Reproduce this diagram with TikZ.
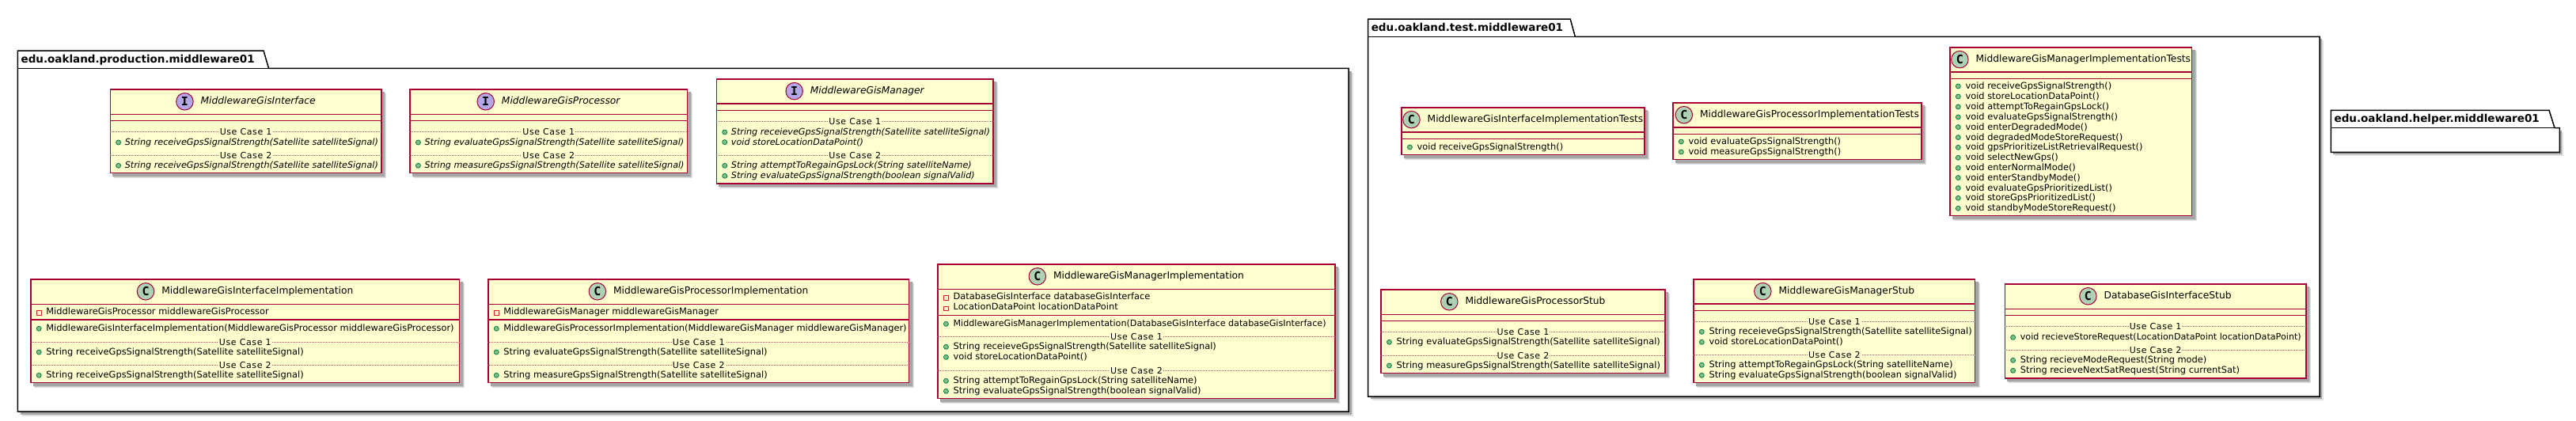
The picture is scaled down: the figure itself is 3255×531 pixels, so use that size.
\documentclass[tikz,border=0pt]{standalone}
\usepackage{fontspec}
\setmainfont{DejaVu Sans}
\newfontfamily\letterfont{DejaVu Sans Mono}
\newfontfamily\ucfamily[LetterSpace=5.5]{DejaVu Sans}
\definecolor{umlborder}{HTML}{A80036}
\definecolor{umlfill}{HTML}{FEFECE}
\definecolor{circI}{HTML}{B4A7E5}
\definecolor{circC}{HTML}{ADD1B2}
\definecolor{pubfill}{HTML}{84BE84}
\definecolor{publine}{HTML}{038048}
\definecolor{privline}{HTML}{C82930}
\newcount\nodeno
\newcommand\nn{\global\advance\nodeno by 1\relax}
\newcommand\memfont{\fontsize{11.4}{13}\selectfont}
\newcommand\memsfont{\fontsize{11.15}{13}\selectfont}
\newcommand\memifont{\fontsize{11.2}{13}\selectfont\itshape}
\newcommand\ucfont{\ucfamily\fontsize{11}{13}\selectfont}
\newcommand\titfont{\fontsize{12.27}{15}\selectfont}
\newcommand\pkgfont{\fontsize{13.5}{16}\selectfont\bfseries}
\tikzset{
  x=1pt,y=-1pt,
  classbody/.style={draw=umlborder,fill=umlfill,line width=1.5pt,inner sep=0pt,outer sep=0pt},
  rule/.style={draw=umlborder,line width=1.5pt},
  dots/.style={draw=umlborder!70,line width=.7pt,dash pattern=on 1pt off 1pt},
  sh1/.style={fill=black!12},
  sh2/.style={fill=black!22},
  sh3/.style={fill=black!35},
  memtext/.style={anchor=base west,inner sep=0pt,font=\memfont,text=black},
  memitext/.style={anchor=base west,inner sep=0pt,font=\memifont,text=black},
  uctext/.style={fill=umlfill,inner xsep=1pt,inner ysep=0pt,font=\ucfont,text=black},
  pubdot/.style={circle,draw=publine,fill=pubfill,line width=.8pt,minimum size=6pt,inner sep=0pt},
  privsq/.style={rectangle,draw=privline,line width=.9pt,minimum size=5.5pt,inner sep=0pt},
  badgeI/.style={circle,draw=umlborder,fill=circI,line width=1pt,minimum size=21.5pt,inner sep=0pt,font=\letterfont\fontsize{15}{15}\selectfont\bfseries},
  badgeC/.style={badgeI,fill=circC},
  nameI/.style={inner sep=0pt,font=\titfont\itshape},
  nameC/.style={inner sep=0pt,font=\titfont},
  pkgline/.style={draw=black,line width=1.5pt,fill=white,line join=miter},
  pkgtext/.style={anchor=base west,inner sep=0pt,font=\pkgfont},
}
% name x1 y1 x2 y2 ytitle yattr letter title
\newcommand\kbox[9]{%
  \fill[sh1] (#2+5.5,#3+5.5) rectangle (#4+5.5,#5+5.5);
  \fill[sh2] (#2+4.5,#3+4.5) rectangle (#4+4.5,#5+4.5);
  \fill[sh3] (#2+3.5,#3+3.5) rectangle (#4+3.5,#5+3.5);
  \pgfmathsetmacro\bw{#4-#2}\pgfmathsetmacro\bh{#5-#3}
  \node[classbody,minimum width=\bw pt-1.5pt,minimum height=\bh pt-1.5pt] (#1) at ({(#2+#4)/2},{(#3+#5)/2}) {};
  \draw[rule] (#2,#6) -- (#4,#6);
  \draw[rule] (#2,#7) -- (#4,#7);
  \node[name#8] (#1title) at ({(#2+#4)/2+15.5},{(#3+#6)/2}) {\strut #9};
  \node[badge#8] (#1badge) at ([xshift=-20pt]#1title.west) {#8};
}
\newcommand\mem[3]{%
  \nn\node[pubdot] (d\the\nodeno) at (#1+11,#2) {};
  \node[memtext] (m\the\nodeno) at (#1+20,#2+3.6) {#3};
}
\newcommand\mems[3]{%
  \nn\node[pubdot] (d\the\nodeno) at (#1+11,#2) {};
  \node[memtext,font=\memsfont] (m\the\nodeno) at (#1+20,#2+3.6) {#3};
}
\newcommand\memi[3]{%
  \nn\node[pubdot] (d\the\nodeno) at (#1+11,#2) {};
  \node[memitext] (m\the\nodeno) at (#1+19,#2+3.6) {#3};
}
\newcommand\priv[3]{%
  \nn\node[privsq] (d\the\nodeno) at (#1+11,#2+1.5) {};
  \node[memtext] (m\the\nodeno) at (#1+20,#2+3.6) {#3};
}
\newcommand\ucsep[4]{%
  \nn\draw[dots] (#1,#3) -- (#2,#3);
  \node[uctext] (u\the\nodeno) at ({(#1+#2)/2},#3) {#4};
}
\begin{document}
\begin{tikzpicture}
\useasboundingbox (0,0) rectangle (3255,531);
\fill[white] (0,0) rectangle (3255,531);
% ---------- production package
\fill[sh1] (27.5,91.5) rectangle (1709.5,525.5);
\fill[sh3] (25.5,89.5) rectangle (1707.5,523.5);
\draw[pkgline] (22.4,86.3) -- (22.4,64) -- (333,64) -- (339.5,86.3) -- (1704,86.3) -- (1704,520) -- (22.4,520) -- cycle;
\draw[pkgline,fill=none] (22.4,86.3) -- (339.5,86.3);
\node[pkgtext] (pkgprod) at (26.4,79) {edu.oakland.production.middleware01};
% MiddlewareGisInterface
\kbox{gi}{138.6}{112.3}{482.6}{219.3}{144.3}{152.7}{I}{MiddlewareGisInterface}
\ucsep{138.6}{482.6}{166.3}{Use Case 1}
\memi{138.6}{180}{String receiveGpsSignalStrength(Satellite satelliteSignal)}
\ucsep{138.6}{482.6}{196}{Use Case 2}
\memi{138.6}{209.3}{String receiveGpsSignalStrength(Satellite satelliteSignal)}
% MiddlewareGisProcessor
\kbox{gp}{517.4}{112.3}{869}{219.3}{144.3}{152.7}{I}{MiddlewareGisProcessor}
\ucsep{517.4}{869}{166.3}{Use Case 1}
\memi{517.4}{180}{String evaluateGpsSignalStrength(Satellite satelliteSignal)}
\ucsep{517.4}{869}{196}{Use Case 2}
\memi{517.4}{209.3}{String measureGpsSignalStrength(Satellite satelliteSignal)}
% MiddlewareGisManager
\kbox{gm}{904.7}{99.3}{1255.8}{232.7}{131}{139.3}{I}{MiddlewareGisManager}
\ucsep{904.7}{1255.8}{153.3}{Use Case 1}
\memi{904.7}{167}{String receieveGpsSignalStrength(Satellite satelliteSignal)}
\memi{904.7}{179.6}{void storeLocationDataPoint()}
\ucsep{904.7}{1255.8}{196}{Use Case 2}
\memi{904.7}{209.3}{String attemptToRegainGpsLock(String satelliteName)}
\memi{904.7}{222.3}{String evaluateGpsSignalStrength(boolean signalValid)}
% InterfaceImplementation
\kbox{ii}{38.2}{352.3}{581.4}{484.3}{384.3}{404}{C}{MiddlewareGisInterfaceImplementation}
\priv{38.2}{394}{MiddlewareGisProcessor middlewareGisProcessor}
\mem{38.2}{415.3}{MiddlewareGisInterfaceImplementation(MiddlewareGisProcessor middlewareGisProcessor)}
\ucsep{38.2}{581.4}{432.3}{Use Case 1}
\mem{38.2}{445}{String receiveGpsSignalStrength(Satellite satelliteSignal)}
\ucsep{38.2}{581.4}{461.3}{Use Case 2}
\mem{38.2}{474.3}{String receiveGpsSignalStrength(Satellite satelliteSignal)}
% ProcessorImplementation
\kbox{pi}{616.2}{352.3}{1149.3}{484.3}{384.3}{404}{C}{MiddlewareGisProcessorImplementation}
\priv{616.2}{394}{MiddlewareGisManager middlewareGisManager}
\mem{616.2}{415.3}{MiddlewareGisProcessorImplementation(MiddlewareGisManager middlewareGisManager)}
\ucsep{616.2}{1149.3}{432.3}{Use Case 1}
\mem{616.2}{445}{String evaluateGpsSignalStrength(Satellite satelliteSignal)}
\ucsep{616.2}{1149.3}{461.3}{Use Case 2}
\mem{616.2}{474.3}{String measureGpsSignalStrength(Satellite satelliteSignal)}
% ManagerImplementation
\kbox{mi}{1184.4}{333.3}{1687.5}{504.3}{365.3}{398.3}{C}{MiddlewareGisManagerImplementation}
\priv{1184.4}{375}{DatabaseGisInterface databaseGisInterface}
\priv{1184.4}{388.3}{LocationDataPoint locationDataPoint}
\mems{1184.4}{409.3}{MiddlewareGisManagerImplementation(DatabaseGisInterface databaseGisInterface)}
\ucsep{1184.4}{1687.5}{425.3}{Use Case 1}
\mem{1184.4}{438.3}{String receieveGpsSignalStrength(Satellite satelliteSignal)}
\mem{1184.4}{451.3}{void storeLocationDataPoint()}
\ucsep{1184.4}{1687.5}{468.3}{Use Case 2}
\mem{1184.4}{481.3}{String attemptToRegainGpsLock(String satelliteName)}
\mem{1184.4}{494.3}{String evaluateGpsSignalStrength(boolean signalValid)}
% ---------- test package
\fill[sh1] (1733.6,51.3) rectangle (2936,506);
\fill[sh3] (1731.6,49.3) rectangle (2934,504);
\draw[pkgline] (1728.6,46.3) -- (1728.6,24) -- (1984.2,24) -- (1990.3,46.3) -- (2931,46.3) -- (2931,501) -- (1728.6,501) -- cycle;
\draw[pkgline,fill=none] (1728.6,46.3) -- (1990.3,46.3);
\node[pkgtext] (pkgtest) at (1732.6,39) {edu.oakland.test.middleware01};
% Tests
\kbox{it}{1770.4}{135.3}{2078.6}{196.3}{167}{175.3}{C}{MiddlewareGisInterfaceImplementationTests}
\mem{1770.4}{186}{void receiveGpsSignalStrength()}
\kbox{pt}{2113.3}{129.3}{2428.6}{202.3}{161}{169.3}{C}{MiddlewareGisProcessorImplementationTests}
\mem{2113.3}{179}{void evaluateGpsSignalStrength()}
\mem{2113.3}{192}{void measureGpsSignalStrength()}
\kbox{mt}{2463.3}{59.3}{2770.3}{273.3}{91}{99.3}{C}{MiddlewareGisManagerImplementationTests}
\mem{2463.3}{109}{void receiveGpsSignalStrength()}
\mem{2463.3}{122}{void storeLocationDataPoint()}
\mem{2463.3}{135}{void attemptToRegainGpsLock()}
\mem{2463.3}{148}{void evaluateGpsSignalStrength()}
\mem{2463.3}{160.6}{void enterDegradedMode()}
\mem{2463.3}{173.6}{void degradedModeStoreRequest()}
\mem{2463.3}{186.3}{void gpsPrioritizeListRetrievalRequest()}
\mem{2463.3}{199.3}{void selectNewGps()}
\mem{2463.3}{212.3}{void enterNormalMode()}
\mem{2463.3}{224.6}{void enterStandbyMode()}
\mem{2463.3}{237.6}{void evaluateGpsPrioritizedList()}
\mem{2463.3}{250.3}{void storeGpsPrioritizedList()}
\mem{2463.3}{263.3}{void standbyModeStoreRequest()}
% Stubs
\kbox{ps}{1744.4}{365.3}{2104.6}{472.3}{397.3}{405.3}{C}{MiddlewareGisProcessorStub}
\ucsep{1744.4}{2104.6}{419.3}{Use Case 1}
\mem{1744.4}{432.3}{String evaluateGpsSignalStrength(Satellite satelliteSignal)}
\ucsep{1744.4}{2104.6}{449}{Use Case 2}
\mem{1744.4}{462}{String measureGpsSignalStrength(Satellite satelliteSignal)}
\kbox{ms}{2139.3}{352.3}{2496.4}{484.3}{384}{392.3}{C}{MiddlewareGisManagerStub}
\ucsep{2139.3}{2496.4}{406.3}{Use Case 1}
\mem{2139.3}{419.3}{String receieveGpsSignalStrength(Satellite satelliteSignal)}
\mem{2139.3}{432.3}{void storeLocationDataPoint()}
\ucsep{2139.3}{2496.4}{448.3}{Use Case 2}
\mem{2139.3}{461.3}{String attemptToRegainGpsLock(String satelliteName)}
\mem{2139.3}{474.3}{String evaluateGpsSignalStrength(boolean signalValid)}
\kbox{ds}{2532.6}{358.3}{2914.6}{478.7}{390.3}{398.3}{C}{DatabaseGisInterfaceStub}
\ucsep{2532.6}{2914.6}{412.3}{Use Case 1}
\mems{2532.6}{426.3}{void recieveStoreRequest(LocationDataPoint locationDataPoint)}
\ucsep{2532.6}{2914.6}{442.3}{Use Case 2}
\mem{2532.6}{455.3}{String recieveModeRequest(String mode)}
\mem{2532.6}{468.3}{String recieveNextSatRequest(String currentSat)}
% ---------- helper package
\fill[sh1] (2950.4,166.7) rectangle (3239.4,197.3);
\fill[sh3] (2948.4,164.7) rectangle (3237.4,195.3);
\draw[pkgline] (2945.4,161.7) -- (2945.4,139.3) -- (3221,139.3) -- (3228,161.7) -- (3234.4,161.7) -- (3234.4,192.3) -- (2945.4,192.3) -- cycle;
\draw[pkgline,fill=none] (2945.4,161.7) -- (3228,161.7);
\node[pkgtext] (pkghelp) at (2949.4,154.3) {edu.oakland.helper.middleware01};
\end{tikzpicture}
\end{document}
